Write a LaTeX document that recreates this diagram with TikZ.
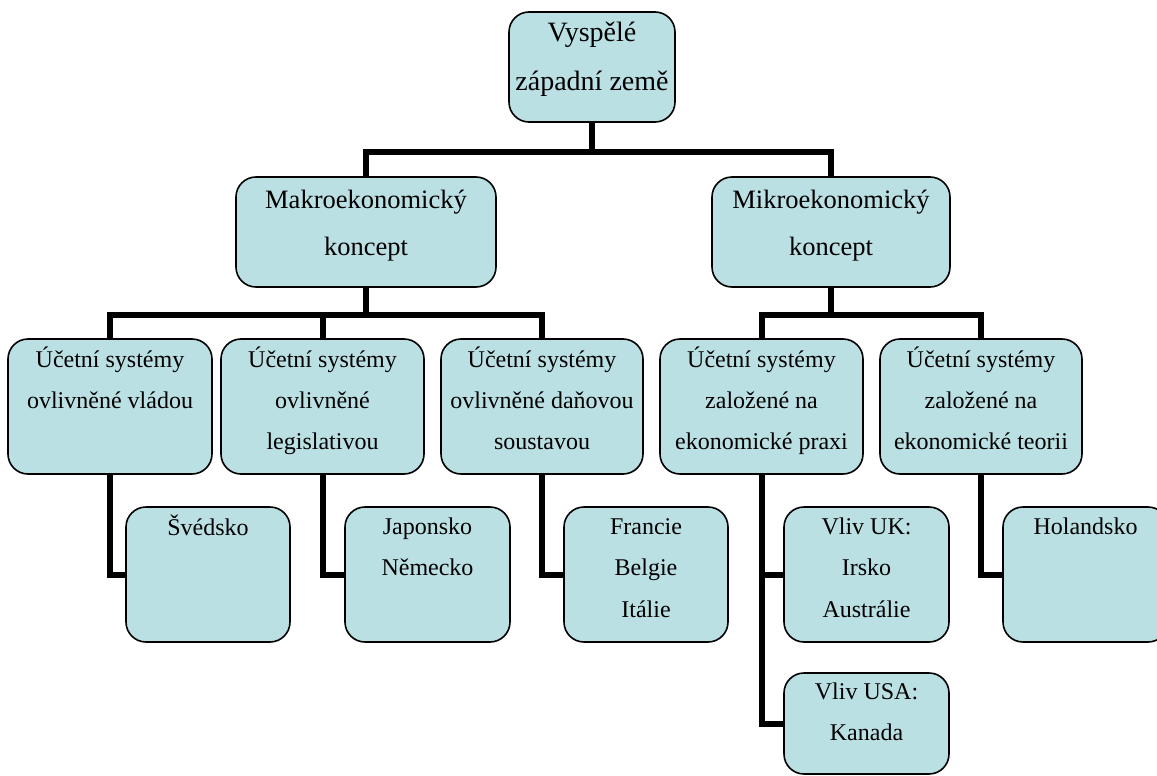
\documentclass[tikz,border=0pt]{standalone}
\usepackage{fontspec}
\setmainfont{Liberation Serif}
\definecolor{boxfill}{HTML}{BBE0E3}
\pgfdeclarelayer{bg}
\pgfsetlayers{bg,main}
\begin{document}
\begin{tikzpicture}[x=1pt,y=-1pt,
  box/.style={draw=black, line width=1.6pt, fill=boxfill, rounded corners=20pt, inner sep=0pt},
  conn/.style={line width=6pt, line join=miter, line cap=butt, draw=black},
  txt/.style={anchor=north, inner sep=0pt, align=center},
  tA/.style={txt, font=\fontsize{28}{49}\selectfont},
  tB/.style={txt, font=\fontsize{26.5}{47}\selectfont},
  tC/.style={txt, font=\fontsize{24}{41}\selectfont},
  tD/.style={txt, font=\fontsize{24}{41.5}\selectfont},
]
\useasboundingbox (0,0) rectangle (1157,776);
% boxes
\node[box, minimum width=166pt, minimum height=110pt] (top) at (592,67) {};
\node[box, minimum width=260pt, minimum height=110pt] (makro) at (366,232) {};
\node[box, minimum width=238pt, minimum height=110pt] (mikro) at (831,232) {};
\node[box, minimum width=204pt, minimum height=135pt] (n1) at (110,406.5) {};
\node[box, minimum width=203pt, minimum height=135pt] (n2) at (322.5,406.5) {};
\node[box, minimum width=202pt, minimum height=135pt] (n3) at (542,406.5) {};
\node[box, minimum width=203pt, minimum height=135pt] (n4) at (761.5,406.5) {};
\node[box, minimum width=202pt, minimum height=135pt] (n5) at (981,406.5) {};
\node[box, minimum width=164pt, minimum height=135pt] (sw) at (208,574.5) {};
\node[box, minimum width=165pt, minimum height=135pt] (jp) at (427.5,574.5) {};
\node[box, minimum width=164pt, minimum height=135pt] (fr) at (646,574.5) {};
\node[box, minimum width=165pt, minimum height=135pt] (uk) at (866.5,574.5) {};
\node[box, minimum width=165pt, minimum height=101pt] (usa) at (866.5,723.5) {};
\node[box, minimum width=165pt, minimum height=135pt] (hol) at (1085.5,574.5) {};
% texts
\node[tA] (ttop) at ([yshift=-2pt]top.north) {\rule{0pt}{28pt}Vyspělé\\západní země};
\node[tB] (tmakro) at ([yshift=-6pt]makro.north) {\rule{0pt}{26pt}Makroekonomický\\koncept};
\node[tB] (tmikro) at ([yshift=-6pt]mikro.north) {\rule{0pt}{26pt}Mikroekonomický\\koncept};
\node[tC] (t1) at ([yshift=-5pt]n1.north) {\rule{0pt}{24pt}Účetní systémy\\ovlivněné vládou};
\node[tC] (t2) at ([yshift=-5pt]n2.north) {\rule{0pt}{24pt}Účetní systémy\\ovlivněné\\legislativou};
\node[tC] (t3) at ([yshift=-5pt]n3.north) {\rule{0pt}{24pt}Účetní systémy\\ovlivněné daňovou\\soustavou};
\node[tC] (t4) at ([yshift=-5pt]n4.north) {\rule{0pt}{24pt}Účetní systémy\\založené na\\ekonomické praxi};
\node[tC] (t5) at ([yshift=-5pt]n5.north) {\rule{0pt}{24pt}Účetní systémy\\založené na\\ekonomické teorii};
\node[tD] (tsw) at ([yshift=-5pt]sw.north) {\rule{0pt}{24pt}Švédsko};
\node[tD] (tjp) at ([yshift=-4pt]jp.north) {\rule{0pt}{24pt}Japonsko\\Německo};
\node[tD] (tfr) at ([yshift=-4pt]fr.north) {\rule{0pt}{24pt}Francie\\Belgie\\Itálie};
\node[tD] (tuk) at ([yshift=-4pt]uk.north) {\rule{0pt}{24pt}Vliv UK:\\Irsko\\Austrálie};
\node[tD] (tusa) at ([yshift=-3pt]usa.north) {\rule{0pt}{24pt}Vliv USA:\\Kanada};
\node[tD] (thol) at ([yshift=-4pt]hol.north) {\rule{0pt}{24pt}Holandsko};
% connectors
\begin{pgfonlayer}{bg}
\coordinate (j0) at (592,152);
\draw[conn] (top.south) -- (j0);
\draw[conn] (makro.north) |- (j0) -| (mikro.north);
\draw[conn] (makro.south) -- ++(0,27) coordinate (j1);
\draw[conn] (n1.north) |- (j1) -| (n3.north);
\draw[conn] (n2.north) -- (n2.north |- j1);
\draw[conn] (mikro.south) -- ++(0,27) coordinate (j2);
\draw[conn] (n4.north) |- (j2) -| (n5.north);
\draw[conn] (n1.south) |- (sw.west);
\draw[conn] (n2.south) |- (jp.west);
\draw[conn] (n3.south) |- (fr.west);
\draw[conn] (n4.south) |- (uk.west);
\draw[conn] (n4.south) |- (usa.west);
\draw[conn] (n5.south) |- (hol.west);
\end{pgfonlayer}
\end{tikzpicture}
\end{document}
